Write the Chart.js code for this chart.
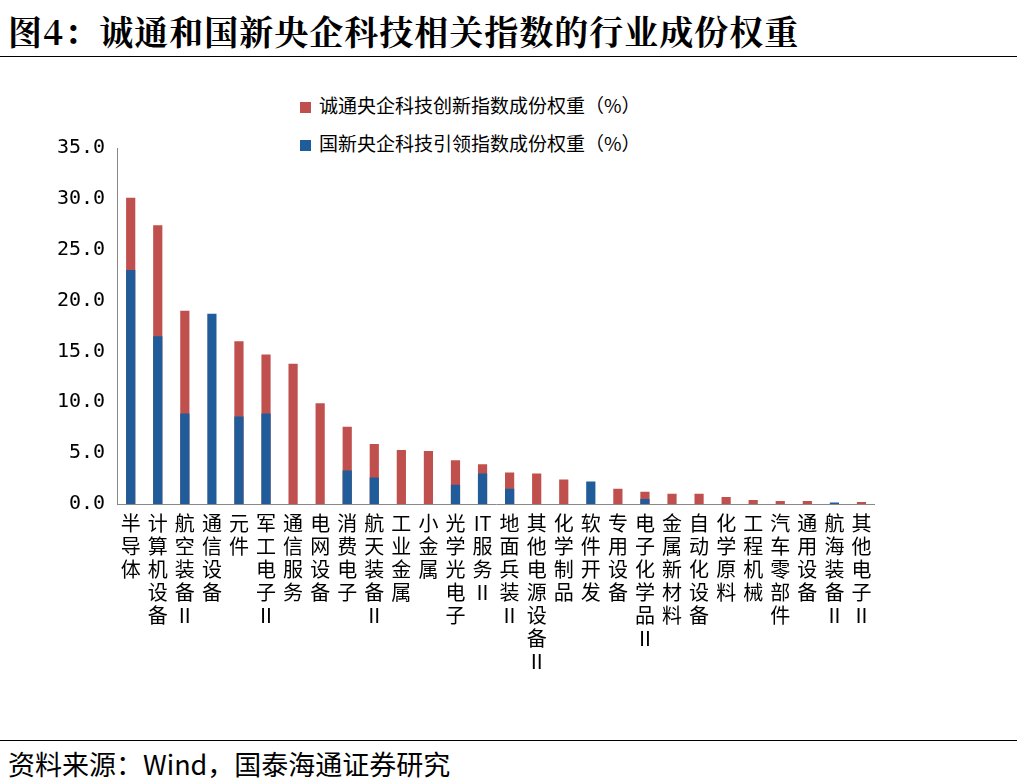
<!DOCTYPE html>
<html><head><meta charset="utf-8">
<script src="https://cdn.jsdelivr.net/npm/chart.js@4"></script>
<style>
body{margin:0;background:#fff;width:1029px;height:783px;position:relative;overflow:hidden}
#title{position:absolute;left:8px;top:6px;font:bold 34px "Noto Serif CJK SC","Noto Sans CJK SC",serif;color:#000;letter-spacing:1px}
#tl{position:absolute;left:0;top:56px;width:1017px;border-top:1px solid #000}
#bl{position:absolute;left:0;top:740px;width:1017px;border-top:1px solid #000}
#src{position:absolute;left:8px;top:744px;font:27px "Noto Sans CJK SC",serif}
#legend{position:absolute;left:300px;top:86px;font:19px "Noto Sans CJK SC";color:#000;line-height:38px}
#legend span{display:inline-block;width:11px;height:11px;margin-right:8px;vertical-align:middle}
canvas{position:absolute;left:51px;top:130px}
</style></head><body>
<div id="title">图4：诚通和国新央企科技相关指数的行业成份权重</div>
<div id="tl"></div>
<div id="legend"></div>
<canvas id="c" width="824" height="545"></canvas>
<div id="bl"></div>
<div id="src">资料来源：Wind，国泰海通证券研究</div>
<script>
// 行业
const categories = ['半导体','计算机设备','航空装备Ⅱ','通信设备','元件','军工电子Ⅱ','通信服务','电网设备','消费电子','航天装备Ⅱ','工业金属','小金属','光学光电子','IT服务Ⅱ','地面兵装Ⅱ','其他电源设备Ⅱ','化学制品','软件开发','专用设备','电子化学品Ⅱ','金属新材料','自动化设备','化学原料','工程机械','汽车零部件','通用设备','航海装备Ⅱ','其他电子Ⅱ'];
const chengtong = [30.1,27.4,19.0,0,16.0,14.7,13.8,9.9,7.6,5.9,5.3,5.2,4.3,3.9,3.1,3.0,2.4,0,1.5,1.2,1.0,1.0,0.7,0.4,0.3,0.3,0,0.2];
const guoxin = [23.0,16.5,8.9,18.7,8.6,8.9,0,0,3.3,2.6,0,0,1.9,3.0,1.5,0,0,2.2,0,0.5,0,0,0,0,0,0,0.15,0];
const yTicks = [0,5,10,15,20,25,30,35];

const labels = categories.map(s => {
  const out = [];
  for (let i = 0; i < s.length; i++) {
    if (s.slice(i, i + 2) === 'IT') { out.push('IT'); i++; } else out.push(s[i]);
  }
  return out;
});

const sets = [
  {label:'诚通央企科技创新指数成份权重（%）', data: chengtong, backgroundColor:'#c0504d', order:1},
  {label:'国新央企科技引领指数成份权重（%）', data: guoxin, backgroundColor:'#1f5c99', order:0}
];
document.getElementById('legend').innerHTML = sets.map(d =>
  '<div><span style="background:' + d.backgroundColor + '"></span>' + d.label + '</div>').join('');

new Chart(document.getElementById('c'), {
  type: 'bar',
  data: { labels: labels, datasets: sets },
  options: {
    animation:false, responsive:false, maintainAspectRatio:false,
    devicePixelRatio:1,
    layout:{padding:{top:17, right:0}},
    datasets:{bar:{grouped:false, categoryPercentage:1, barPercentage:0.34}},
    plugins:{ legend:{display:false}, tooltip:{enabled:false} },
    scales:{
      x:{grid:{display:false, tickLength:6}, border:{color:'#888'},
         ticks:{autoSkip:false, maxRotation:0, minRotation:0, padding:2, color:'#000', font:{size:20, family:'"Noto Sans CJK SC"', lineHeight:1.15}}},
      y:{min:0, max:35, afterBuildTicks: a => { a.ticks = yTicks.map(v => ({value:v})); },
         grid:{display:false, tickLength:6}, border:{color:'#888'},
         ticks:{color:'#000', padding:6, callback: v => v.toFixed(1), font:{size:20, family:'"DejaVu Sans Mono"'}}}
    }
  }
});
</script>
</body></html>
